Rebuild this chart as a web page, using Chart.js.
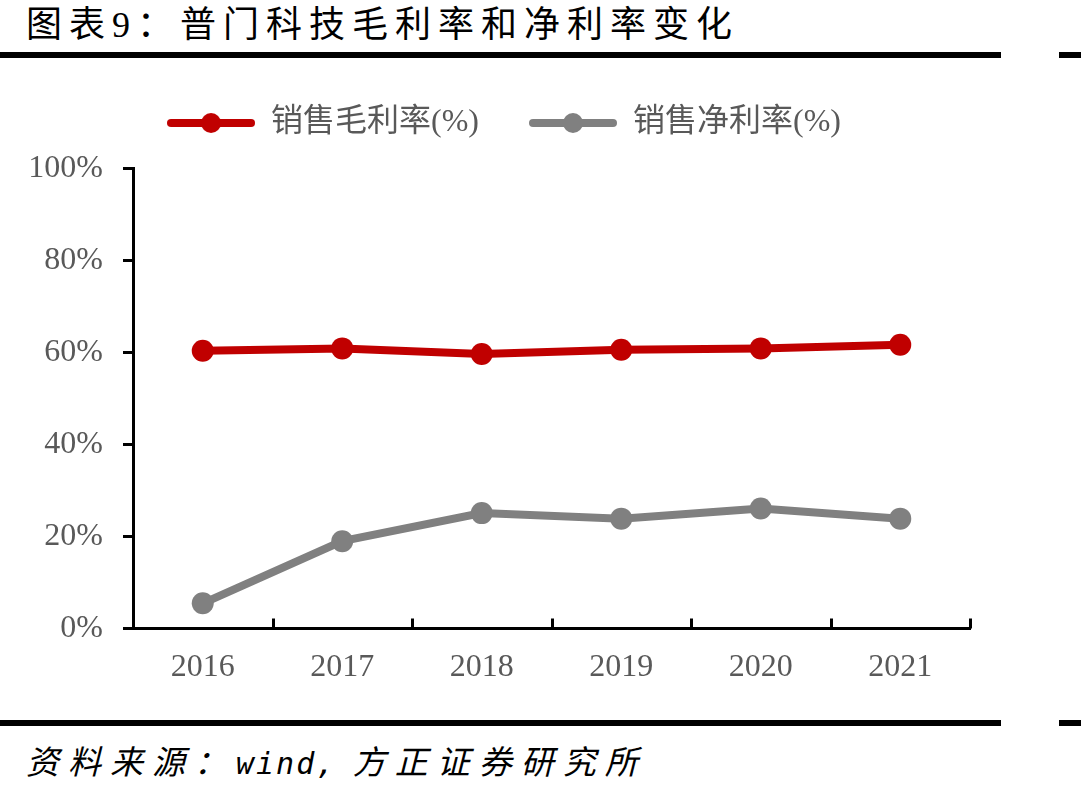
<!DOCTYPE html>
<html>
<head>
<meta charset="utf-8">
<script src="https://cdn.jsdelivr.net/npm/chart.js@4.4.1/dist/chart.umd.min.js"></script>
<style>
  html, body { margin: 0; padding: 0; background: #fff; }
  body { width: 1081px; height: 794px; position: relative; overflow: hidden; }
  .title {
    position: absolute; left: 26px; top: 2px;
    font-family: "Liberation Serif", "Noto Sans CJK SC", serif;
    font-size: 36px; letter-spacing: 7px; color: #000; line-height: 46px;
  }
  .rule { position: absolute; height: 6px; background: #000; }
  .source {
    position: absolute; left: 26px; top: 738px;
    font-family: "Noto Sans CJK SC", sans-serif;
    font-size: 33px; letter-spacing: 9px; font-style: italic; color: #000; line-height: 44px;
  }
  .source .en { font-family: "DejaVu Sans Mono", monospace; font-size: 30px; letter-spacing: 2px; }
  #wrap { position: absolute; left: 0; top: 57px; width: 1081px; height: 650px; }
</style>
</head>
<body>
<div class="title">图表9：普门科技毛利率和净利率变化</div>
<div class="rule" style="left:0; top:52px; width:1001px;"></div>
<div class="rule" style="left:1059px; top:52px; width:22px;"></div>
<div id="wrap"><canvas id="chart" width="1081" height="650"></canvas></div>
<div class="rule" style="left:0; top:720px; width:1001px;"></div>
<div class="rule" style="left:1059px; top:720px; width:22px;"></div>
<div class="source">资料来源：<span class="en">wind,</span> 方正证券研究所</div>

<script>
// 普门科技 毛利率 / 净利率（%）
const years = ['2016', '2017', '2018', '2019', '2020', '2021'];
const grossMargin = [60.4, 60.9, 59.7, 60.6, 60.9, 61.7];
const netMargin = [5.5, 19.0, 25.1, 23.9, 26.1, 23.9];
const seriesNames = ['销售毛利率(%)', '销售净利率(%)'];

const RED = '#C00000';
const GRAY = '#808080';
const TICK_COLOR = '#595959';
const SERIF = '"Liberation Serif", "Noto Sans CJK SC", serif';

// legend marker: line with a dot in the middle
function legendMarker(color) {
    const c = document.createElement('canvas');
    c.width = 88;
    c.height = 24;
    const g = c.getContext('2d');
    g.strokeStyle = color;
    g.lineWidth = 8;
    g.lineCap = 'round';
    g.beginPath();
    g.moveTo(4, 12);
    g.lineTo(84, 12);
    g.stroke();
    g.fillStyle = color;
    g.beginPath();
    g.arc(44, 12, 10, 0, Math.PI * 2);
    g.fill();
    return c;
}

// ticks on the x axis point up, at the category boundaries
const upTicks = {
    id: 'upTicks',
    afterDraw(chart) {
        const x = chart.scales.x;
        const area = chart.chartArea;
        const ctx = chart.ctx;
        const half = (x.getPixelForValue(1) - x.getPixelForValue(0)) / 2;
        ctx.save();
        ctx.strokeStyle = '#000';
        ctx.lineWidth = 3;
        ctx.beginPath();
        for (let i = 0; i <= years.length; i++) {
            const px = Math.round(x.getPixelForValue(i) - half) + 0.5;
            ctx.moveTo(px, area.bottom);
            ctx.lineTo(px, area.bottom - 10);
        }
        ctx.stroke();
        ctx.restore();
    }
};

// keep legend height fixed so the plot starts where the reference does,
// and nudge the row a little to the right
const legendHeight = {
    id: 'legendHeight',
    beforeInit(chart) {
        const origFit = chart.legend.fit;
        chart.legend.fit = function () {
            origFit.bind(chart.legend)();
            this.height = 111.5;
            if (this.lineWidths && this.lineWidths.length) this.lineWidths[0] -= 12;
        };
    }
};

function dataset(label, data, color) {
    return {
        label: label,
        data: data,
        borderColor: color,
        backgroundColor: color,
        borderWidth: 8,
        pointRadius: 11,
        pointHoverRadius: 11,
        pointBackgroundColor: color,
        pointBorderWidth: 0,
        pointStyle: 'circle',
        tension: 0
    };
}

const ctx = document.getElementById('chart').getContext('2d');
new Chart(ctx, {
    type: 'line',
    data: {
        labels: years,
        datasets: [
            dataset(seriesNames[0], grossMargin, RED),
            dataset(seriesNames[1], netMargin, GRAY)
        ]
    },
    options: {
        responsive: false,
        animation: false,
        layout: { padding: { left: 26, right: 111, top: 0, bottom: 0 } },
        plugins: {
            legend: {
                position: 'top',
                labels: {
                    usePointStyle: true,
                    pointStyleWidth: 88,
                    padding: 50,
                    color: TICK_COLOR,
                    font: { family: SERIF, size: 32 },
                    generateLabels(chart) {
                        return chart.data.datasets.map((d, i) => ({
                            text: d.label,
                            pointStyle: legendMarker(d.borderColor),
                            fillStyle: d.borderColor,
                            strokeStyle: d.borderColor,
                            lineWidth: 0,
                            fontColor: TICK_COLOR,
                            datasetIndex: i,
                            hidden: false
                        }));
                    }
                }
            },
            tooltip: { enabled: false }
        },
        scales: {
            x: {
                offset: true,
                grid: { display: false, drawTicks: false },
                border: { display: true, color: '#000', width: 3 },
                ticks: { color: TICK_COLOR, font: { family: SERIF, size: 32 }, padding: 20 }
            },
            y: {
                min: 0,
                max: 100,
                afterFit(scale) { scale.width = 107; },
                grid: { drawOnChartArea: false, drawTicks: true, tickLength: 10, color: '#000', lineWidth: 3 },
                border: { display: true, color: '#000', width: 3 },
                ticks: {
                    stepSize: 20,
                    padding: 20,
                    color: TICK_COLOR,
                    font: { family: SERIF, size: 32 },
                    callback: v => v + '%'
                }
            }
        }
    },
    plugins: [upTicks, legendHeight]
});
</script>
</body>
</html>
